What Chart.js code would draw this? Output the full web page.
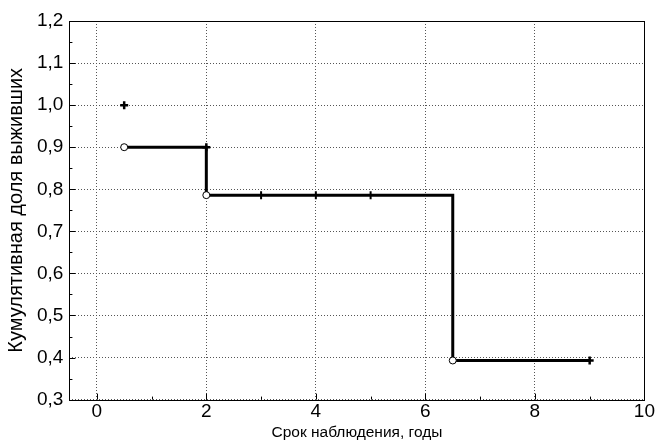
<!DOCTYPE html>
<html>
<head>
<meta charset="utf-8">
<script src="https://cdn.jsdelivr.net/npm/chart.js@4/dist/chart.umd.min.js"></script>
<style>
  html, body { margin: 0; padding: 0; background: #fff; }
  #wrap { width: 656px; height: 443px; }
</style>
</head>
<body>
<div id="wrap"><canvas id="km"></canvas></div>
<script>
// survival curve (Kaplan-Meier), years vs cumulative share
const stepX = [0.5, 2, 2, 6.5, 6.5, 9]
const stepY = [0.9, 0.9, 0.786, 0.786, 0.393, 0.393]
const eventX = [0.5, 2, 6.5]
const eventY = [0.9, 0.786, 0.393]
const crossX = [0.5, 2, 9]
const crossY = [1.0, 0.9, 0.393]
const censorX = [3, 4, 5]
const censorY = [0.786, 0.786, 0.786]
const xTicks = [0, 2, 4, 6, 8, 10]
const xMinor = [1, 3, 5, 7, 9]
const yTicks = [0.3, 0.4, 0.5, 0.6, 0.7, 0.8, 0.9, 1.0, 1.1, 1.2]

const pts = (xs, ys) => xs.map((x, i) => ({ x, y: ys[i] }))
const fmt = (v, d) => Number(v).toFixed(d).replace('.', ',')

// inward tick marks + frame, like the original stat package draws
const frameTicks = {
  id: 'frameTicks',
  afterDraw(chart) {
    const { ctx, chartArea: a, scales } = chart
    ctx.save()
    ctx.strokeStyle = '#000'
    ctx.lineWidth = 1
    ctx.beginPath()
    xTicks.forEach(v => {
      const px = Math.round(scales.x.getPixelForValue(v)) + 0.5
      ctx.moveTo(px, a.bottom); ctx.lineTo(px, a.bottom - 6)
    })
    xMinor.forEach(v => {
      const px = Math.round(scales.x.getPixelForValue(v)) + 0.5
      ctx.moveTo(px, a.bottom); ctx.lineTo(px, a.bottom - 3)
    })
    for (let v = 0.3; v <= 1.2001; v += 0.05) {
      const py = Math.round(scales.y.getPixelForValue(v)) + 0.5
      const major = Math.abs(v * 10 - Math.round(v * 10)) < 0.01
      ctx.moveTo(a.left, py); ctx.lineTo(a.left + (major ? 6 : 3), py)
    }
    ctx.stroke()
    ctx.strokeRect(Math.round(a.left) + 0.5, Math.round(a.top) + 0.5,
      Math.round(a.right - a.left), Math.round(a.bottom - a.top))
    ctx.restore()
  },
}

const family = "'Liberation Sans', Arial, sans-serif"

new Chart(document.getElementById('km'), {
  type: 'scatter',
  data: {
    datasets: [
      {
        data: pts(stepX, stepY),
        showLine: true,
        borderColor: '#000',
        borderWidth: 3,
        pointRadius: 0,
        order: 4,
      },
      {
        data: pts(censorX, censorY),
        pointStyle: 'line',
        rotation: 90,
        pointRadius: 4,
        borderColor: '#000',
        pointBorderWidth: 2,
        order: 3,
      },
      {
        data: pts(crossX, crossY),
        pointStyle: 'cross',
        pointRadius: 4,
        borderColor: '#000',
        pointBorderWidth: 2.5,
        order: 2,
      },
      {
        data: pts(eventX, eventY),
        pointStyle: 'circle',
        pointRadius: 3.5,
        backgroundColor: '#fff',
        borderColor: '#000',
        pointBorderWidth: 1,
        order: 1,
      },
    ],
  },
  options: {
    responsive: true,
    maintainAspectRatio: false,
    animation: false,
    layout: { padding: { top: 21, right: 10, left: 4, bottom: 0 } },
    plugins: { legend: { display: false }, tooltip: { enabled: false } },
    scales: {
      x: {
        type: 'linear',
        min: -0.5,
        max: 10,
        afterBuildTicks: s => { s.ticks = xTicks.map(value => ({ value })) },
        grid: { color: '#555', drawTicks: false },
        border: { display: false, dash: [1, 2] },
        ticks: { color: '#000', font: { family, size: 19 }, padding: 1, callback: v => v },
        title: { display: true, text: 'Срок наблюдения, годы', color: '#000', font: { family, size: 15.5 }, padding: { top: -1, bottom: 1 } },
      },
      y: {
        type: 'linear',
        min: 0.3,
        max: 1.2,
        afterBuildTicks: s => { s.ticks = yTicks.map(value => ({ value })) },
        grid: { color: '#555', drawTicks: false },
        border: { display: false, dash: [1, 2] },
        ticks: { color: '#000', font: { family, size: 19 }, padding: 6, callback: v => fmt(v, 1) },
        title: { display: true, text: 'Кумулятивная доля выживших', color: '#000', font: { family, size: 20 }, padding: { top: 0, bottom: 3 } },
      },
    },
  },
  plugins: [frameTicks],
})
</script>
</body>
</html>
